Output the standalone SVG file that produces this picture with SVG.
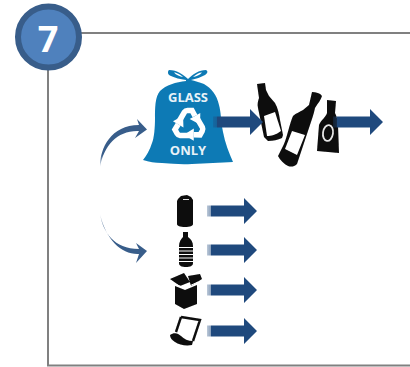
<svg xmlns="http://www.w3.org/2000/svg" width="410" height="367" viewBox="0 0 410 367">
<defs>
<linearGradient id="fade" x1="0" x2="1" y1="0" y2="0"><stop offset="0" stop-color="#1f497d" stop-opacity="0.3"/><stop offset="0.07" stop-color="#1f497d" stop-opacity="0.5"/><stop offset="0.08" stop-color="#1f497d"/><stop offset="1" stop-color="#1f497d"/></linearGradient>
<linearGradient id="curveA" x1="0" x2="0" y1="1" y2="0"><stop offset="0" stop-color="#385d8a" stop-opacity="0.1"/><stop offset="0.25" stop-color="#385d8a"/></linearGradient>
<linearGradient id="curveB" x1="0" x2="0" y1="0" y2="1"><stop offset="0" stop-color="#385d8a" stop-opacity="0.1"/><stop offset="0.25" stop-color="#385d8a"/></linearGradient>
<filter id="soft" x="-10%" y="-10%" width="120%" height="120%"><feGaussianBlur stdDeviation="0.5"/></filter>
<path id="block" d="M0 -5.500H37V-13L50 0L37 13V5.500H0Z" fill="url(#fade)"/>
<g id="rarrow"><path d="M-10 -3.500L-4.500 -13Q-3.500 -14.500 -1.500 -14.500H3L6 -9" fill="none" stroke="#fff" stroke-width="5.500"/><path d="M11 -0.500L11.300 -12L0.700 -6Z" fill="#fff"/></g>
</defs>
<style>
.frame{fill:none;stroke:#808080;stroke-width:2}
.ink{fill:#0a0a0a}
.bag{fill:#0b7ab5}
.lbl{font-family:"Open Sans","Liberation Sans",sans-serif;font-weight:700;font-size:13px;fill:#e8f2f8;text-anchor:middle}
</style>
<g id="frame"><path class="frame" d="M80 33H410M48 68V365.500H410"/></g>
<g id="badge"><circle cx="48.500" cy="37" r="30.500" fill="#4f81bd" stroke="#385d8a" stroke-width="6"/><text x="48" y="51.500" font-family="Open Sans,Liberation Sans,sans-serif" font-weight="700" font-size="36" fill="#fff" text-anchor="middle">7</text></g>
<g id="bag" filter="url(#soft)">
<path class="bag" fill-rule="evenodd" d="M188 79C184 75 177 70 169 70C167 72 168 75 171 76C175 78 180 79 186 80L186 81C176 82 166 85 160 91C155 97 155 108 155 118C155 128 154 138 152 143C150 150 146 156 143 160C149 162 155 163 162 163C172 164 182 164.500 192 164C206 163 220 163 233 162C229 153 225 143 223 132C221 122 221 112 219 105C217 95 211 88 204 84C199 82 195 81 191 80C196 79 201 77 205 75C208 73 208 71 206 70C199 70 193 74 188 79ZM174 72.500C177 72.500 181 75 183 77C180 76.500 176 75 174 72.500ZM202 72.500C199 72.500 196 74.500 193 77C196 76.500 200 75 202 72.500Z"/>
</g>
<g id="bag-text"><text class="lbl" x="188" y="101.500">GLASS</text><text class="lbl" x="188" y="155">ONLY</text>
<g filter="url(#soft)" transform="translate(189 125)">
<use href="#rarrow"/><use href="#rarrow" transform="rotate(120)"/><use href="#rarrow" transform="rotate(240)"/>
</g></g>
<g id="bottles" filter="url(#soft)">
<path class="ink" d="M257 84L265 83L266 90L269 96L275 103C278 108 279 114 280 120L283 135L282 138C278 140 273 141 268 141L264 137L258 108C257 104 258 101 259 98Z"/>
<path d="M264 116L275 112L281 131C276 135 271 136 267 136Z" fill="#fff"/>
<path class="ink" d="M312 92C316 92 320 93 322 96C321 100 318 103 315 108C314 113 312 119 310 125L297 164C294 167 291 167 288 166C284 164 280 160 278 156L284 144C287 137 290 122 293 116C296 113 300 112 303 110L309 105Z"/>
<path d="M292 131L305 135L297 155L285 149Z" fill="#fff"/>
<path class="ink" d="M327 100L336 101L335 113C337 117 338 121 338 125L339 153L317 151L319 125C321 120 326 117 327 113Z"/>
<ellipse cx="328" cy="133" rx="5" ry="8" transform="rotate(8 328 133)" fill="none" stroke="#e6e6e6" stroke-width="1.800"/>
</g>
<g id="connectors">
<use href="#block" x="213" y="122"/>
<use href="#block" x="333" y="122"/>
<use href="#block" x="207" y="211"/>
<use href="#block" x="207" y="250"/>
<use href="#block" x="207" y="290"/>
<use href="#block" x="207" y="331"/>
<path d="M100 167C100 148 111 125 139 125L137 119L147 129.500L135 138L139 131C118 130 104 145 100 167Z" fill="url(#curveA)"/>
<path d="M100 214C103 232 114 249 139 249L136 243L147 251L136 263L139 254C122 255 106 240 100 214Z" fill="url(#curveB)"/>
</g>
<g id="can" filter="url(#soft)"><path class="ink" d="M178 199L181 196L187 195L191 197L193 200V224C193 226 190 227 185 227C180 227 177 226 177 224V201Z"/><path d="M183 199.500H189" stroke="#ddd" fill="none"/></g>
<g id="plastic-bottle" filter="url(#soft)"><path class="ink" d="M183 232H188V237C191 239 193 242 193 246V263C193 266 190 267 186 267C182 267 179 266 179 263V246C179 242 181 239 183 237Z"/><path d="M179 247.500H193M179 251H193M179 254.500H193M179 258H193M179 261.500H193" stroke="#fff" stroke-width="1.100"/></g>
<g id="carton" filter="url(#soft)"><path class="ink" d="M175 286L185 290L197 285V304L184 309L175 304ZM170 279L184 273L190 282L180 286ZM188 276L200 274L202 279L191 286Z"/><path d="M172 283L185 288L198 282" stroke="#fff" stroke-width="1" fill="none"/></g>
<g id="paper" filter="url(#soft)"><path d="M181 317L200 320L193 341M181 317L176 332" fill="none" stroke="#0a0a0a" stroke-width="2.400"/><path class="ink" d="M170 335C174 332 178 333 181 336C184 339 188 341 193 341L192 345C186 346 179 345 175 342C172 340 170 338 170 335Z"/></g>
</svg>
